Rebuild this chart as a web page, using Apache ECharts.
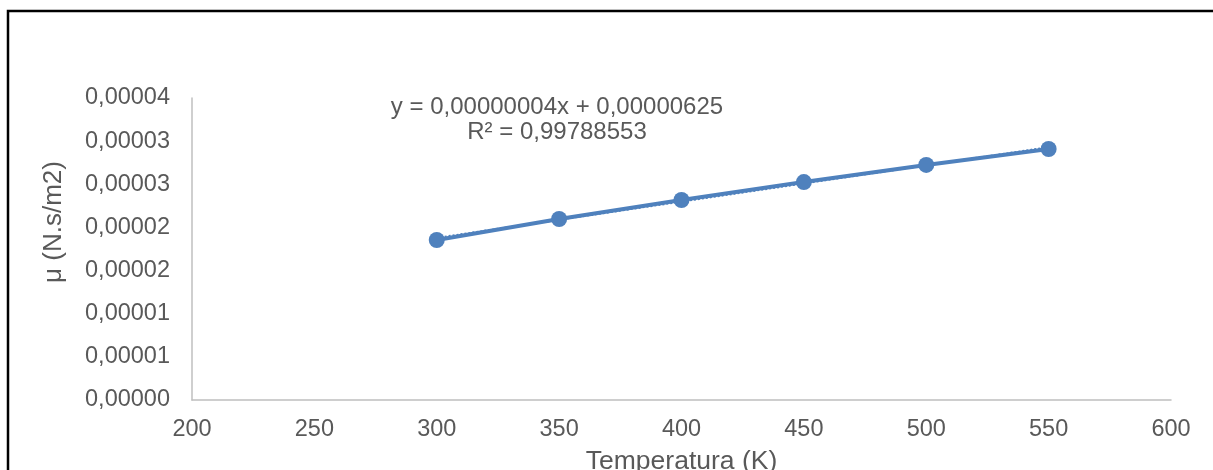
<!DOCTYPE html>
<html>
<head>
<meta charset="utf-8">
<title>Viscosidade vs Temperatura</title>
<script src="https://cdn.jsdelivr.net/npm/echarts@6/dist/echarts.min.js"></script>
<style>
  html, body { margin: 0; padding: 0; background: #fff; }
  #chart { width: 1213px; height: 470px; }
</style>
</head>
<body>
<div id="chart"></div>
<script>
// dados
const temperaturas = [300, 350, 400, 450, 500, 550];
const viscosidade = [1.854e-5, 2.098e-5, 2.318e-5, 2.526e-5, 2.724e-5, 2.909e-5];
// linha de tendência (extremos)
const tendenciaX = [300, 550];
const tendenciaY = [1.879e-5, 2.93e-5];
const yTickLabels = ['0,00000', '0,00001', '0,00001', '0,00002', '0,00002', '0,00003', '0,00003', '0,00004'];
const equacao = 'y = 0,00000004x + 0,00000625\nR² = 0,99788553';

const azul = '#4f81bd';
const cinzaTexto = '#595959';
const fonte = '"Liberation Sans", Arial, sans-serif';

const chart = echarts.init(document.getElementById('chart'));
chart.setOption({
  animation: false,
  grid: { left: 192, right: 42, top: 98, bottom: 70, containLabel: false, outerBoundsMode: 'none' },
  xAxis: {
    type: 'value',
    min: 200,
    max: 600,
    interval: 50,
    name: 'Temperatura (K)',
    nameLocation: 'middle',
    nameGap: 48,
    nameTextStyle: { fontSize: 26.5, color: cinzaTexto, fontFamily: fonte },
    axisLine: { show: true, lineStyle: { color: '#bfbfbf', width: 1.5 } },
    axisTick: { show: false },
    splitLine: { show: false },
    axisLabel: { fontSize: 23.5, color: cinzaTexto, fontFamily: fonte, margin: 18 }
  },
  yAxis: {
    type: 'value',
    min: 0,
    max: 0.000035,
    interval: 0.000005,
    axisLine: { show: true, lineStyle: { color: '#bfbfbf', width: 1.5 } },
    axisTick: { show: false },
    splitLine: { show: false },
    axisLabel: {
      fontSize: 23.5,
      color: cinzaTexto,
      fontFamily: fonte,
      margin: 22,
      formatter: (v, i) => yTickLabels[i]
    }
  },
  series: [
    {
      name: 'Tendência',
      type: 'line',
      data: tendenciaX.map((x, i) => [x, tendenciaY[i]]),
      symbol: 'none',
      lineStyle: { color: azul, width: 2, type: 'dotted' },
      z: 1
    },
    {
      name: 'μ',
      type: 'line',
      data: temperaturas.map((t, i) => [t, viscosidade[i]]),
      symbol: 'circle',
      symbolSize: 16,
      itemStyle: { color: azul },
      lineStyle: { color: azul, width: 4 },
      z: 2
    }
  ],
  graphic: [
    {
      type: 'rect',
      shape: { x: 8, y: 11, width: 1400, height: 700 },
      style: { fill: 'none', stroke: '#000', lineWidth: 2.5 },
      silent: true
    },
    {
      type: 'text',
      x: 54,
      y: 222,
      rotation: Math.PI / 2,
      style: {
        text: 'μ (N.s/m2)',
        fontSize: 26,
        fill: cinzaTexto,
        fontFamily: fonte,
        align: 'center',
        verticalAlign: 'middle'
      }
    },
    {
      type: 'text',
      x: 557,
      y: 95,
      style: {
        text: equacao,
        fontSize: 24,
        lineHeight: 25,
        fill: cinzaTexto,
        fontFamily: fonte,
        align: 'center',
        verticalAlign: 'top'
      }
    }
  ]
});
</script>
</body>
</html>
